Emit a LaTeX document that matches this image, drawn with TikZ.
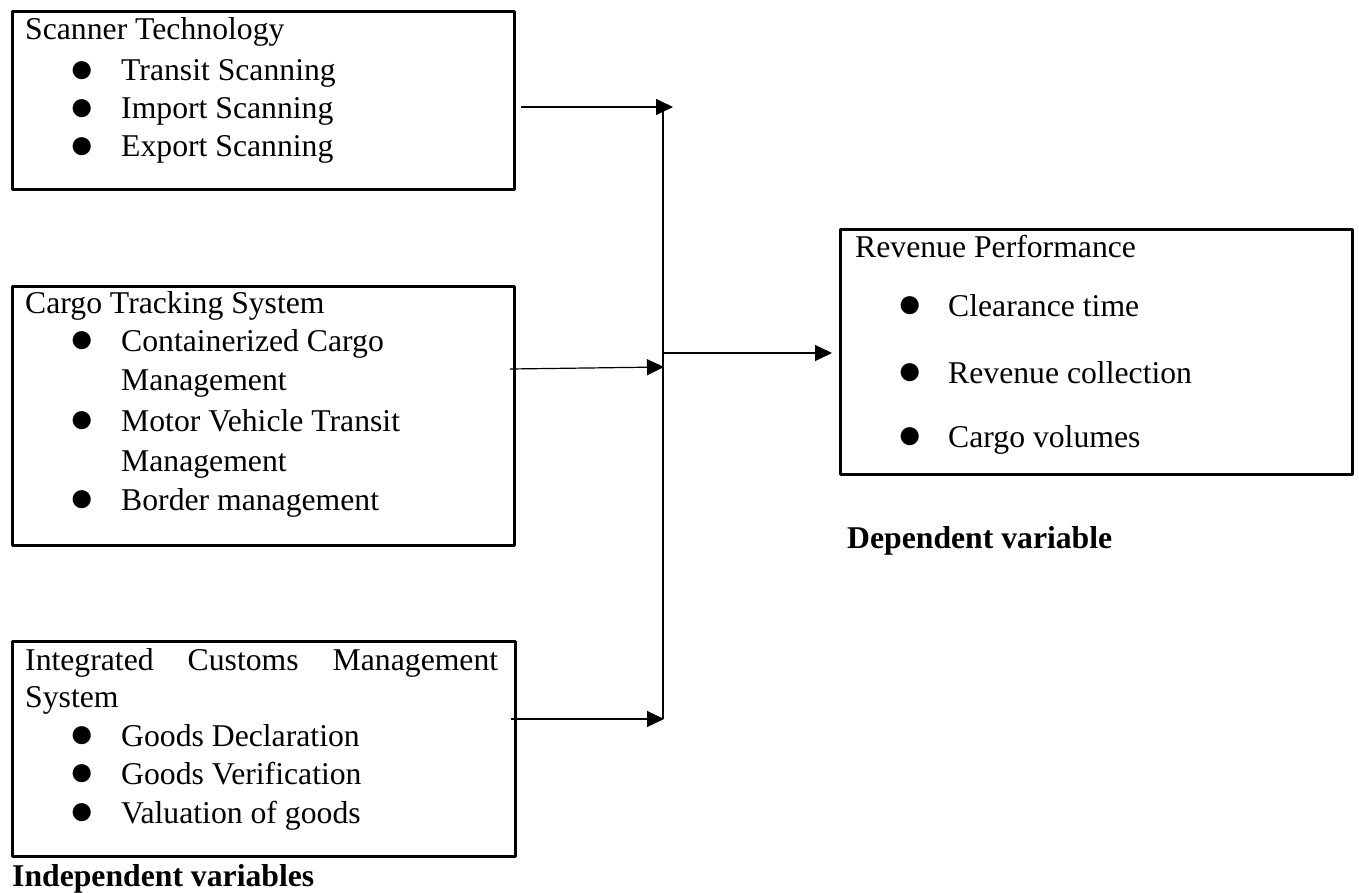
\documentclass[tikz,border=0pt]{standalone}
\usepackage{fontspec}
\setmainfont{Liberation Serif}
\usetikzlibrary{arrows.meta}
\begin{document}
\begin{tikzpicture}[x=1pt,y=-1pt,line join=round,
	box/.style={draw,line width=2.6pt,anchor=north west,inner sep=0pt},
	txt/.style={anchor=base west,inner sep=0pt,font=\fontsize{31.7}{38}\selectfont},
	bul/.style={inner sep=0pt,font=\fontsize{42}{42}\selectfont},
	conn/.style={line width=1.2pt,-{Triangle[length=17pt,width=16pt]}}]
	\useasboundingbox (0,0) rectangle (1359,893);
	% boxes
	\node[box,minimum width=502pt,minimum height=178pt] (scan) at (11,10) {};
	\node[box,minimum width=502pt,minimum height=259pt] (cargo) at (11,285) {};
	\node[box,minimum width=503pt,minimum height=215pt] (icms) at (11,640) {};
	\node[box,minimum width=512pt,minimum height=245pt] (rev) at (839,228) {};
	% texts
	\foreach \x/\y/\t/\n in {25/40/Scanner Technology/hscan,121/81/Transit Scanning/ts,121/119/Import Scanning/is,121/157/Export Scanning/es,
		25/313/Cargo Tracking System/hcargo,121/351/Containerized Cargo/cc,121/390/Management/ccm,121/431/Motor Vehicle Transit/mv,121/471/Management/mvm,121/510/Border management/bm,
		25/707/System/hicms2,121/746/Goods Declaration/gd,121/784/Goods Verification/gv,121/823/Valuation of goods/vg,
		855/258/Revenue Performance/hrev,948/316/Clearance time/ct,948/383/Revenue collection/rc,948/447/Cargo volumes/cv}{
		\node[txt] (\n) at (\x,\y) {\t};
	}
	\node[txt] (hicms1) at (25,670) {\makebox[473pt][s]{Integrated Customs Management}};
	\foreach \x/\y/\n in {82/81/b1,82/119/b2,82/157/b3,82/351/b4,82/431/b5,82/510/b6,82/746/b7,82/784/b8,82/823/b9,910/316/b10,910/383/b11,910/447/b12}{
		\node[bul] (\n) at (\x,{\y-9}) {●};
	}
	\node[txt,font=\fontsize{31.7}{38}\selectfont\bfseries] (indep) at (12,886) {Independent variables};
	\node[txt,font=\fontsize{31.7}{38}\selectfont\bfseries] (dep) at (847,548) {Dependent variable};
	% connectors
	\foreach \x/\y/\z in {521/107/a1,673/107/t1,510/369/a2,664/367/t2,511/719/a3,664/719/t3,663/107/busT,663/719/busB,663/353/busM,832/353/t4}{
		\path (\x,\y) coordinate (\z);
	}
	\draw[line width=1.2pt] (busT)--(busB);
	\draw[conn] (a1)--(t1);
	\draw[conn] (a2)--(t2);
	\draw[conn] (a3)--(t3);
	\draw[conn] (busM)--(t4);
\end{tikzpicture}
\end{document}
